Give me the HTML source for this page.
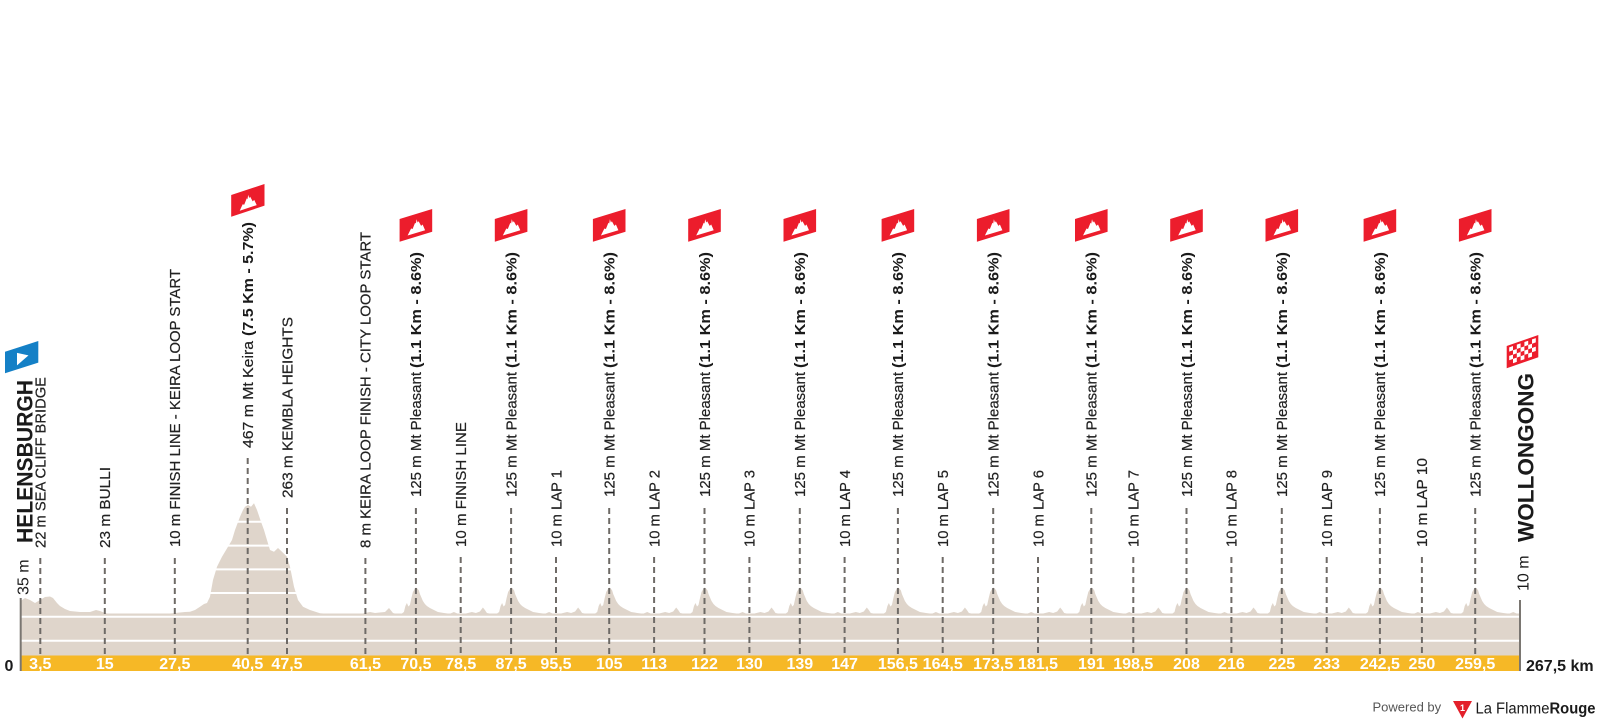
<!DOCTYPE html>
<html>
<head>
<meta charset="utf-8">
<style>
  html,body{margin:0;padding:0;background:#fff;}
  svg{display:block;}
  .lbl{font-family:"Liberation Sans",Arial,sans-serif;font-size:14.5px;fill:#222;stroke:#222;stroke-width:0.2;}
  .mp{font-family:"Liberation Sans",Arial,sans-serif;font-size:14.5px;fill:#222;stroke:#222;stroke-width:0.2;}
  .mpb{font-family:"Liberation Sans",Arial,sans-serif;font-size:14.5px;font-weight:bold;fill:#1a1a1a;}
  .km{font-family:"Liberation Sans",Arial,sans-serif;font-size:16px;font-weight:bold;fill:#fff;text-anchor:middle;}
  .dash{stroke:#6e6a66;stroke-width:2;stroke-dasharray:6 4;fill:none;}
</style>
</head>
<body>
<svg width="1600" height="725" viewBox="0 0 1600 725" xmlns="http://www.w3.org/2000/svg">
<defs>
  <clipPath id="cl"><rect x="20.7" y="400" width="1499.3" height="260"/></clipPath>
</defs>
<rect width="1600" height="725" fill="#fff"/>

<g clip-path="url(#cl)" fill="#dfd5cb">
  <rect x="20.7" y="613.5" width="1499.3" height="42"/>
  <path d="M20.7,615 L20.7,601 L25,598 L30,600 L35,603 L40,600 L45,597 L50,596.5 L53,598 L57,603 L60,606 L65,609 L70,611 L80,612 L90,612 L96,610 L100,611 L105,613 L110,614 L120,614.5 L140,614.5 L155,615 L165,614 L175,613 L185,612 L190,611.7 L195,610 L200,606.7 L204,604 L207,603 L210,596.7 L213,580 L217,566.7 L222,556.7 L228,546.7 L232,540 L235,530 L240,516.7 L243,510 L245,506.7 L248,505 L251,506.7 L254,503.3 L257,510 L261,521.7 L264,530 L266,536.7 L270,550 L274,551.7 L278,548 L282,551.7 L287,556.7 L290,566.7 L294,586.7 L298,600 L303,606.7 L310,610 L320,613.3 L330,614 L340,615 L350,614 L360,614 L370,612 L375,613 L385,612 L389,608 L393,613 L400,615 Z"/>
  <g>
    <path transform="translate(415.9,0)" d="M-18,615 L-14,613.5 L-12,612 L-10.5,606 L-9,603 L-7.5,606.5 L-6,605 L-4.5,598 L-3,592 L-1.5,589.5 L0,587.5 L1.5,588.5 L3,590.5 L4,594 L5.5,597.5 L7,601 L9,604 L11,606 L14,608 L18,610 L22,612 L28,613 L34,613.8 L38,612 L42,613.8 L50,613.5 L56,612 L60,613 L64,611.5 L67,607.5 L69,610 L71,613 L76,614 L80,615 Z"/>
    <path transform="translate(511.1,0)" d="M-18,615 L-14,613.5 L-12,612 L-10.5,606 L-9,603 L-7.5,606.5 L-6,605 L-4.5,598 L-3,592 L-1.5,589.5 L0,587.5 L1.5,588.5 L3,590.5 L4,594 L5.5,597.5 L7,601 L9,604 L11,606 L14,608 L18,610 L22,612 L28,613 L34,613.8 L38,612 L42,613.8 L50,613.5 L56,612 L60,613 L64,611.5 L67,607.5 L69,610 L71,613 L76,614 L80,615 Z"/>
    <path transform="translate(609.2,0)" d="M-18,615 L-14,613.5 L-12,612 L-10.5,606 L-9,603 L-7.5,606.5 L-6,605 L-4.5,598 L-3,592 L-1.5,589.5 L0,587.5 L1.5,588.5 L3,590.5 L4,594 L5.5,597.5 L7,601 L9,604 L11,606 L14,608 L18,610 L22,612 L28,613 L34,613.8 L38,612 L42,613.8 L50,613.5 L56,612 L60,613 L64,611.5 L67,607.5 L69,610 L71,613 L76,614 L80,615 Z"/>
    <path transform="translate(704.5,0)" d="M-18,615 L-14,613.5 L-12,612 L-10.5,606 L-9,603 L-7.5,606.5 L-6,605 L-4.5,598 L-3,592 L-1.5,589.5 L0,587.5 L1.5,588.5 L3,590.5 L4,594 L5.5,597.5 L7,601 L9,604 L11,606 L14,608 L18,610 L22,612 L28,613 L34,613.8 L38,612 L42,613.8 L50,613.5 L56,612 L60,613 L64,611.5 L67,607.5 L69,610 L71,613 L76,614 L80,615 Z"/>
    <path transform="translate(799.8,0)" d="M-18,615 L-14,613.5 L-12,612 L-10.5,606 L-9,603 L-7.5,606.5 L-6,605 L-4.5,598 L-3,592 L-1.5,589.5 L0,587.5 L1.5,588.5 L3,590.5 L4,594 L5.5,597.5 L7,601 L9,604 L11,606 L14,608 L18,610 L22,612 L28,613 L34,613.8 L38,612 L42,613.8 L50,613.5 L56,612 L60,613 L64,611.5 L67,607.5 L69,610 L71,613 L76,614 L80,615 Z"/>
    <path transform="translate(897.9,0)" d="M-18,615 L-14,613.5 L-12,612 L-10.5,606 L-9,603 L-7.5,606.5 L-6,605 L-4.5,598 L-3,592 L-1.5,589.5 L0,587.5 L1.5,588.5 L3,590.5 L4,594 L5.5,597.5 L7,601 L9,604 L11,606 L14,608 L18,610 L22,612 L28,613 L34,613.8 L38,612 L42,613.8 L50,613.5 L56,612 L60,613 L64,611.5 L67,607.5 L69,610 L71,613 L76,614 L80,615 Z"/>
    <path transform="translate(993.2,0)" d="M-18,615 L-14,613.5 L-12,612 L-10.5,606 L-9,603 L-7.5,606.5 L-6,605 L-4.5,598 L-3,592 L-1.5,589.5 L0,587.5 L1.5,588.5 L3,590.5 L4,594 L5.5,597.5 L7,601 L9,604 L11,606 L14,608 L18,610 L22,612 L28,613 L34,613.8 L38,612 L42,613.8 L50,613.5 L56,612 L60,613 L64,611.5 L67,607.5 L69,610 L71,613 L76,614 L80,615 Z"/>
    <path transform="translate(1091.3,0)" d="M-18,615 L-14,613.5 L-12,612 L-10.5,606 L-9,603 L-7.5,606.5 L-6,605 L-4.5,598 L-3,592 L-1.5,589.5 L0,587.5 L1.5,588.5 L3,590.5 L4,594 L5.5,597.5 L7,601 L9,604 L11,606 L14,608 L18,610 L22,612 L28,613 L34,613.8 L38,612 L42,613.8 L50,613.5 L56,612 L60,613 L64,611.5 L67,607.5 L69,610 L71,613 L76,614 L80,615 Z"/>
    <path transform="translate(1186.5,0)" d="M-18,615 L-14,613.5 L-12,612 L-10.5,606 L-9,603 L-7.5,606.5 L-6,605 L-4.5,598 L-3,592 L-1.5,589.5 L0,587.5 L1.5,588.5 L3,590.5 L4,594 L5.5,597.5 L7,601 L9,604 L11,606 L14,608 L18,610 L22,612 L28,613 L34,613.8 L38,612 L42,613.8 L50,613.5 L56,612 L60,613 L64,611.5 L67,607.5 L69,610 L71,613 L76,614 L80,615 Z"/>
    <path transform="translate(1281.8,0)" d="M-18,615 L-14,613.5 L-12,612 L-10.5,606 L-9,603 L-7.5,606.5 L-6,605 L-4.5,598 L-3,592 L-1.5,589.5 L0,587.5 L1.5,588.5 L3,590.5 L4,594 L5.5,597.5 L7,601 L9,604 L11,606 L14,608 L18,610 L22,612 L28,613 L34,613.8 L38,612 L42,613.8 L50,613.5 L56,612 L60,613 L64,611.5 L67,607.5 L69,610 L71,613 L76,614 L80,615 Z"/>
    <path transform="translate(1379.9,0)" d="M-18,615 L-14,613.5 L-12,612 L-10.5,606 L-9,603 L-7.5,606.5 L-6,605 L-4.5,598 L-3,592 L-1.5,589.5 L0,587.5 L1.5,588.5 L3,590.5 L4,594 L5.5,597.5 L7,601 L9,604 L11,606 L14,608 L18,610 L22,612 L28,613 L34,613.8 L38,612 L42,613.8 L50,613.5 L56,612 L60,613 L64,611.5 L67,607.5 L69,610 L71,613 L76,614 L80,615 Z"/>
    <path transform="translate(1475.2,0)" d="M-18,615 L-14,613.5 L-12,612 L-10.5,606 L-9,603 L-7.5,606.5 L-6,605 L-4.5,598 L-3,592 L-1.5,589.5 L0,587.5 L1.5,588.5 L3,590.5 L4,594 L5.5,597.5 L7,601 L9,604 L11,606 L14,608 L18,610 L22,612 L28,613 L34,613.8 L38,612 L42,613.8 L50,613.5 L56,612 L60,613 L64,611.5 L67,607.5 L69,610 L71,613 L76,614 L80,615 Z"/>
  </g>
</g>

<!-- gridlines -->
<g stroke="#fff" stroke-width="2">
  <line x1="20.7" y1="616.7" x2="1520" y2="616.7"/>
  <line x1="20.7" y1="640.7" x2="1520" y2="640.7"/>
  <line x1="195" y1="593" x2="310" y2="593"/>
  <line x1="195" y1="569.4" x2="310" y2="569.4"/>
  <line x1="195" y1="545.6" x2="310" y2="545.6"/>
  <line x1="195" y1="521.7" x2="310" y2="521.7"/>
</g>

<!-- yellow bar -->
<rect x="20.7" y="655.5" width="1499.3" height="15.5" fill="#f6b826"/>

<!-- dashed lines -->
<g class="dash">
  <line x1="40.3" y1="558" x2="40.3" y2="655.5"/>
  <line x1="104.8" y1="558" x2="104.8" y2="655.5"/>
  <line x1="174.8" y1="558" x2="174.8" y2="655.5"/>
  <line x1="247.7" y1="458" x2="247.7" y2="655.5"/>
  <line x1="287" y1="508" x2="287" y2="655.5"/>
  <line x1="365.4" y1="558" x2="365.4" y2="655.5"/>
  <line x1="415.9" y1="508" x2="415.9" y2="655.5"/>
  <line x1="460.7" y1="557" x2="460.7" y2="655.5"/>
  <line x1="511.1" y1="508" x2="511.1" y2="655.5"/>
  <line x1="556" y1="557" x2="556" y2="655.5"/>
  <line x1="609.2" y1="508" x2="609.2" y2="655.5"/>
  <line x1="654.1" y1="557" x2="654.1" y2="655.5"/>
  <line x1="704.5" y1="508" x2="704.5" y2="655.5"/>
  <line x1="749.4" y1="557" x2="749.4" y2="655.5"/>
  <line x1="799.8" y1="508" x2="799.8" y2="655.5"/>
  <line x1="844.6" y1="557" x2="844.6" y2="655.5"/>
  <line x1="897.9" y1="508" x2="897.9" y2="655.5"/>
  <line x1="942.7" y1="557" x2="942.7" y2="655.5"/>
  <line x1="993.2" y1="508" x2="993.2" y2="655.5"/>
  <line x1="1038" y1="557" x2="1038" y2="655.5"/>
  <line x1="1091.3" y1="508" x2="1091.3" y2="655.5"/>
  <line x1="1133.3" y1="557" x2="1133.3" y2="655.5"/>
  <line x1="1186.5" y1="508" x2="1186.5" y2="655.5"/>
  <line x1="1231.4" y1="557" x2="1231.4" y2="655.5"/>
  <line x1="1281.8" y1="508" x2="1281.8" y2="655.5"/>
  <line x1="1326.7" y1="557" x2="1326.7" y2="655.5"/>
  <line x1="1379.9" y1="508" x2="1379.9" y2="655.5"/>
  <line x1="1421.9" y1="557" x2="1421.9" y2="655.5"/>
  <line x1="1475.2" y1="508" x2="1475.2" y2="655.5"/>
</g>

<!-- axes -->
<line x1="20.7" y1="598" x2="20.7" y2="671" stroke="#7a7671" stroke-width="2"/>
<line x1="1520" y1="600" x2="1520" y2="671" stroke="#7a7671" stroke-width="2"/>

<!-- km labels -->
<g class="km">
  <text x="40.3" y="669">3,5</text>
  <text x="104.8" y="669">15</text>
  <text x="174.8" y="669">27,5</text>
  <text x="247.7" y="669">40,5</text>
  <text x="287" y="669">47,5</text>
  <text x="365.4" y="669">61,5</text>
  <text x="415.9" y="669">70,5</text>
  <text x="460.7" y="669">78,5</text>
  <text x="511.1" y="669">87,5</text>
  <text x="556" y="669">95,5</text>
  <text x="609.2" y="669">105</text>
  <text x="654.1" y="669">113</text>
  <text x="704.5" y="669">122</text>
  <text x="749.4" y="669">130</text>
  <text x="799.8" y="669">139</text>
  <text x="844.6" y="669">147</text>
  <text x="897.9" y="669">156,5</text>
  <text x="942.7" y="669">164,5</text>
  <text x="993.2" y="669">173,5</text>
  <text x="1038" y="669">181,5</text>
  <text x="1091.3" y="669">191</text>
  <text x="1133.3" y="669">198,5</text>
  <text x="1186.5" y="669">208</text>
  <text x="1231.4" y="669">216</text>
  <text x="1281.8" y="669">225</text>
  <text x="1326.7" y="669">233</text>
  <text x="1379.9" y="669">242,5</text>
  <text x="1421.9" y="669">250</text>
  <text x="1475.2" y="669">259,5</text>
</g>
<text x="4.5" y="671" font-family="Liberation Sans, Arial, sans-serif" font-size="16" font-weight="bold" fill="#1a1a1a">0</text>
<text x="1526" y="671" font-family="Liberation Sans, Arial, sans-serif" font-size="16" font-weight="bold" fill="#1a1a1a">267,5 km</text>

<!-- rotated labels -->
<g class="lbl">
  <text transform="translate(45.6,548) rotate(-90)" textLength="171" lengthAdjust="spacingAndGlyphs">22 m SEA CLIFF BRIDGE</text>
  <text transform="translate(110.1,548) rotate(-90)" textLength="81" lengthAdjust="spacingAndGlyphs">23 m BULLI</text>
  <text transform="translate(180.1,547) rotate(-90)" textLength="278" lengthAdjust="spacingAndGlyphs">10 m FINISH LINE - KEIRA LOOP START</text>
  <text transform="translate(292.3,498) rotate(-90)" textLength="181" lengthAdjust="spacingAndGlyphs">263 m KEMBLA HEIGHTS</text>
  <text transform="translate(370.7,548) rotate(-90)" textLength="316" lengthAdjust="spacingAndGlyphs">8 m KEIRA LOOP FINISH - CITY LOOP START</text>
  <text transform="translate(466,547) rotate(-90)" textLength="125" lengthAdjust="spacingAndGlyphs">10 m FINISH LINE</text>
  <text transform="translate(561.3,547) rotate(-90)" textLength="77" lengthAdjust="spacingAndGlyphs">10 m LAP 1</text>
  <text transform="translate(659.4,547) rotate(-90)" textLength="77" lengthAdjust="spacingAndGlyphs">10 m LAP 2</text>
  <text transform="translate(754.7,547) rotate(-90)" textLength="77" lengthAdjust="spacingAndGlyphs">10 m LAP 3</text>
  <text transform="translate(849.9,547) rotate(-90)" textLength="77" lengthAdjust="spacingAndGlyphs">10 m LAP 4</text>
  <text transform="translate(948,547) rotate(-90)" textLength="77" lengthAdjust="spacingAndGlyphs">10 m LAP 5</text>
  <text transform="translate(1043.3,547) rotate(-90)" textLength="77" lengthAdjust="spacingAndGlyphs">10 m LAP 6</text>
  <text transform="translate(1138.6,547) rotate(-90)" textLength="77" lengthAdjust="spacingAndGlyphs">10 m LAP 7</text>
  <text transform="translate(1236.7,547) rotate(-90)" textLength="77" lengthAdjust="spacingAndGlyphs">10 m LAP 8</text>
  <text transform="translate(1332,547) rotate(-90)" textLength="77" lengthAdjust="spacingAndGlyphs">10 m LAP 9</text>
  <text transform="translate(1427.2,547) rotate(-90)" textLength="89" lengthAdjust="spacingAndGlyphs">10 m LAP 10</text>
</g>

<!-- climb labels: regular part -->
<g class="mp">
  <text transform="translate(253,448) rotate(-90)" textLength="107" lengthAdjust="spacingAndGlyphs">467 m Mt Keira</text>
  <text transform="translate(421.2,497) rotate(-90)" textLength="125" lengthAdjust="spacingAndGlyphs">125 m Mt Pleasant</text>
  <text transform="translate(516.4,497) rotate(-90)" textLength="125" lengthAdjust="spacingAndGlyphs">125 m Mt Pleasant</text>
  <text transform="translate(614.5,497) rotate(-90)" textLength="125" lengthAdjust="spacingAndGlyphs">125 m Mt Pleasant</text>
  <text transform="translate(709.8,497) rotate(-90)" textLength="125" lengthAdjust="spacingAndGlyphs">125 m Mt Pleasant</text>
  <text transform="translate(805.1,497) rotate(-90)" textLength="125" lengthAdjust="spacingAndGlyphs">125 m Mt Pleasant</text>
  <text transform="translate(903.2,497) rotate(-90)" textLength="125" lengthAdjust="spacingAndGlyphs">125 m Mt Pleasant</text>
  <text transform="translate(998.5,497) rotate(-90)" textLength="125" lengthAdjust="spacingAndGlyphs">125 m Mt Pleasant</text>
  <text transform="translate(1096.6,497) rotate(-90)" textLength="125" lengthAdjust="spacingAndGlyphs">125 m Mt Pleasant</text>
  <text transform="translate(1191.8,497) rotate(-90)" textLength="125" lengthAdjust="spacingAndGlyphs">125 m Mt Pleasant</text>
  <text transform="translate(1287.1,497) rotate(-90)" textLength="125" lengthAdjust="spacingAndGlyphs">125 m Mt Pleasant</text>
  <text transform="translate(1385.2,497) rotate(-90)" textLength="125" lengthAdjust="spacingAndGlyphs">125 m Mt Pleasant</text>
  <text transform="translate(1480.5,497) rotate(-90)" textLength="125" lengthAdjust="spacingAndGlyphs">125 m Mt Pleasant</text>
</g>
<!-- climb labels: bold part -->
<g class="mpb">
  <text transform="translate(253,336) rotate(-90)" textLength="114" lengthAdjust="spacingAndGlyphs">(7.5 Km - 5.7%)</text>
  <text transform="translate(421.2,368) rotate(-90)" textLength="116" lengthAdjust="spacingAndGlyphs">(1.1 Km - 8.6%)</text>
  <text transform="translate(516.4,368) rotate(-90)" textLength="116" lengthAdjust="spacingAndGlyphs">(1.1 Km - 8.6%)</text>
  <text transform="translate(614.5,368) rotate(-90)" textLength="116" lengthAdjust="spacingAndGlyphs">(1.1 Km - 8.6%)</text>
  <text transform="translate(709.8,368) rotate(-90)" textLength="116" lengthAdjust="spacingAndGlyphs">(1.1 Km - 8.6%)</text>
  <text transform="translate(805.1,368) rotate(-90)" textLength="116" lengthAdjust="spacingAndGlyphs">(1.1 Km - 8.6%)</text>
  <text transform="translate(903.2,368) rotate(-90)" textLength="116" lengthAdjust="spacingAndGlyphs">(1.1 Km - 8.6%)</text>
  <text transform="translate(998.5,368) rotate(-90)" textLength="116" lengthAdjust="spacingAndGlyphs">(1.1 Km - 8.6%)</text>
  <text transform="translate(1096.6,368) rotate(-90)" textLength="116" lengthAdjust="spacingAndGlyphs">(1.1 Km - 8.6%)</text>
  <text transform="translate(1191.8,368) rotate(-90)" textLength="116" lengthAdjust="spacingAndGlyphs">(1.1 Km - 8.6%)</text>
  <text transform="translate(1287.1,368) rotate(-90)" textLength="116" lengthAdjust="spacingAndGlyphs">(1.1 Km - 8.6%)</text>
  <text transform="translate(1385.2,368) rotate(-90)" textLength="116" lengthAdjust="spacingAndGlyphs">(1.1 Km - 8.6%)</text>
  <text transform="translate(1480.5,368) rotate(-90)" textLength="116" lengthAdjust="spacingAndGlyphs">(1.1 Km - 8.6%)</text>
</g>

<!-- start / finish labels -->
<g font-family="Liberation Sans, Arial, sans-serif" fill="#1a1a1a">
  <text transform="translate(28.5,595) rotate(-90)" font-size="16">35 m</text>
  <text transform="translate(32.3,543) rotate(-90)" font-size="22" font-weight="bold" textLength="163" lengthAdjust="spacingAndGlyphs">HELENSBURGH</text>
  <text transform="translate(1528.3,591) rotate(-90)" font-size="16">10 m</text>
  <text transform="translate(1533.3,542) rotate(-90)" font-size="22" font-weight="bold" textLength="169" lengthAdjust="spacingAndGlyphs">WOLLONGONG</text>
</g>

<!-- start flag -->
<g transform="translate(5,351.7) skewY(-17.8)">
  <rect x="0" y="0" width="33.3" height="21.6" fill="#1480c6"/>
  <polygon points="12,5 12,17.5 23.5,11.2" fill="#fff"/>
</g>

<!-- Keira flag -->
<g transform="translate(231.2,195) skewY(-18.3)">
  <rect x="0" y="0" width="33.3" height="21.7" fill="#ec1d2c"/>
  <polygon points="8.5,18.5 11.5,13 13,14 15.5,8.5 16.3,9.5 17,5.5 18,9 19,8 21.5,13.5 23,12.5 25.5,18.5" fill="#fff"/>
</g>

<!-- Mt Pleasant flags -->
<g fill="#ec1d2c">
  <g transform="translate(399.6,219) skewY(-17)"><rect width="32.6" height="22.7"/><polygon points="8,19 11.5,13 13,14 15.5,8.5 16.3,9.5 17,5.5 18,9 19,8 21.5,13.5 23,12.5 25.5,19" fill="#fff"/></g>
  <g transform="translate(494.8,219) skewY(-17)"><rect width="32.6" height="22.7"/><polygon points="8,19 11.5,13 13,14 15.5,8.5 16.3,9.5 17,5.5 18,9 19,8 21.5,13.5 23,12.5 25.5,19" fill="#fff"/></g>
  <g transform="translate(592.9,219) skewY(-17)"><rect width="32.6" height="22.7"/><polygon points="8,19 11.5,13 13,14 15.5,8.5 16.3,9.5 17,5.5 18,9 19,8 21.5,13.5 23,12.5 25.5,19" fill="#fff"/></g>
  <g transform="translate(688.2,219) skewY(-17)"><rect width="32.6" height="22.7"/><polygon points="8,19 11.5,13 13,14 15.5,8.5 16.3,9.5 17,5.5 18,9 19,8 21.5,13.5 23,12.5 25.5,19" fill="#fff"/></g>
  <g transform="translate(783.5,219) skewY(-17)"><rect width="32.6" height="22.7"/><polygon points="8,19 11.5,13 13,14 15.5,8.5 16.3,9.5 17,5.5 18,9 19,8 21.5,13.5 23,12.5 25.5,19" fill="#fff"/></g>
  <g transform="translate(881.6,219) skewY(-17)"><rect width="32.6" height="22.7"/><polygon points="8,19 11.5,13 13,14 15.5,8.5 16.3,9.5 17,5.5 18,9 19,8 21.5,13.5 23,12.5 25.5,19" fill="#fff"/></g>
  <g transform="translate(976.9,219) skewY(-17)"><rect width="32.6" height="22.7"/><polygon points="8,19 11.5,13 13,14 15.5,8.5 16.3,9.5 17,5.5 18,9 19,8 21.5,13.5 23,12.5 25.5,19" fill="#fff"/></g>
  <g transform="translate(1075,219) skewY(-17)"><rect width="32.6" height="22.7"/><polygon points="8,19 11.5,13 13,14 15.5,8.5 16.3,9.5 17,5.5 18,9 19,8 21.5,13.5 23,12.5 25.5,19" fill="#fff"/></g>
  <g transform="translate(1170.2,219) skewY(-17)"><rect width="32.6" height="22.7"/><polygon points="8,19 11.5,13 13,14 15.5,8.5 16.3,9.5 17,5.5 18,9 19,8 21.5,13.5 23,12.5 25.5,19" fill="#fff"/></g>
  <g transform="translate(1265.5,219) skewY(-17)"><rect width="32.6" height="22.7"/><polygon points="8,19 11.5,13 13,14 15.5,8.5 16.3,9.5 17,5.5 18,9 19,8 21.5,13.5 23,12.5 25.5,19" fill="#fff"/></g>
  <g transform="translate(1363.6,219) skewY(-17)"><rect width="32.6" height="22.7"/><polygon points="8,19 11.5,13 13,14 15.5,8.5 16.3,9.5 17,5.5 18,9 19,8 21.5,13.5 23,12.5 25.5,19" fill="#fff"/></g>
  <g transform="translate(1458.9,219) skewY(-17)"><rect width="32.6" height="22.7"/><polygon points="8,19 11.5,13 13,14 15.5,8.5 16.3,9.5 17,5.5 18,9 19,8 21.5,13.5 23,12.5 25.5,19" fill="#fff"/></g>
</g>

<!-- checkered finish flag -->
<g transform="translate(1506.7,346) skewY(-19.2)">
  <rect width="31.6" height="22.3" fill="#ec1d2c"/>
  <g fill="#fff">
    <rect x="2.5" y="2.2" width="3.8" height="4.3"/><rect x="10.1" y="2.2" width="3.8" height="4.3"/><rect x="17.7" y="2.2" width="3.8" height="4.3"/><rect x="25.3" y="2.2" width="3.8" height="4.3"/>
    <rect x="6.3" y="6.5" width="3.8" height="4.3"/><rect x="13.9" y="6.5" width="3.8" height="4.3"/><rect x="21.5" y="6.5" width="3.8" height="4.3"/>
    <rect x="2.5" y="10.8" width="3.8" height="4.3"/><rect x="10.1" y="10.8" width="3.8" height="4.3"/><rect x="17.7" y="10.8" width="3.8" height="4.3"/><rect x="25.3" y="10.8" width="3.8" height="4.3"/>
    <rect x="6.3" y="15.1" width="3.8" height="4.3"/><rect x="13.9" y="15.1" width="3.8" height="4.3"/><rect x="21.5" y="15.1" width="3.8" height="4.3"/>
  </g>
</g>

<!-- powered by -->
<text x="1372.5" y="711.7" font-family="Liberation Sans, Arial, sans-serif" font-size="13" fill="#555">Powered by</text>
<polygon points="1453,701 1472,701 1462.5,718.5" fill="#e3202a"/>
<text x="1462.5" y="711" font-family="Liberation Sans, Arial, sans-serif" font-size="9" font-weight="bold" fill="#fff" text-anchor="middle">1</text>
<text x="1475.5" y="713.3" font-family="Liberation Sans, Arial, sans-serif" font-size="15.5" fill="#1a1a1a" textLength="120" lengthAdjust="spacingAndGlyphs">La Flamme<tspan font-weight="bold">Rouge</tspan></text>
</svg>
</body>
</html>
